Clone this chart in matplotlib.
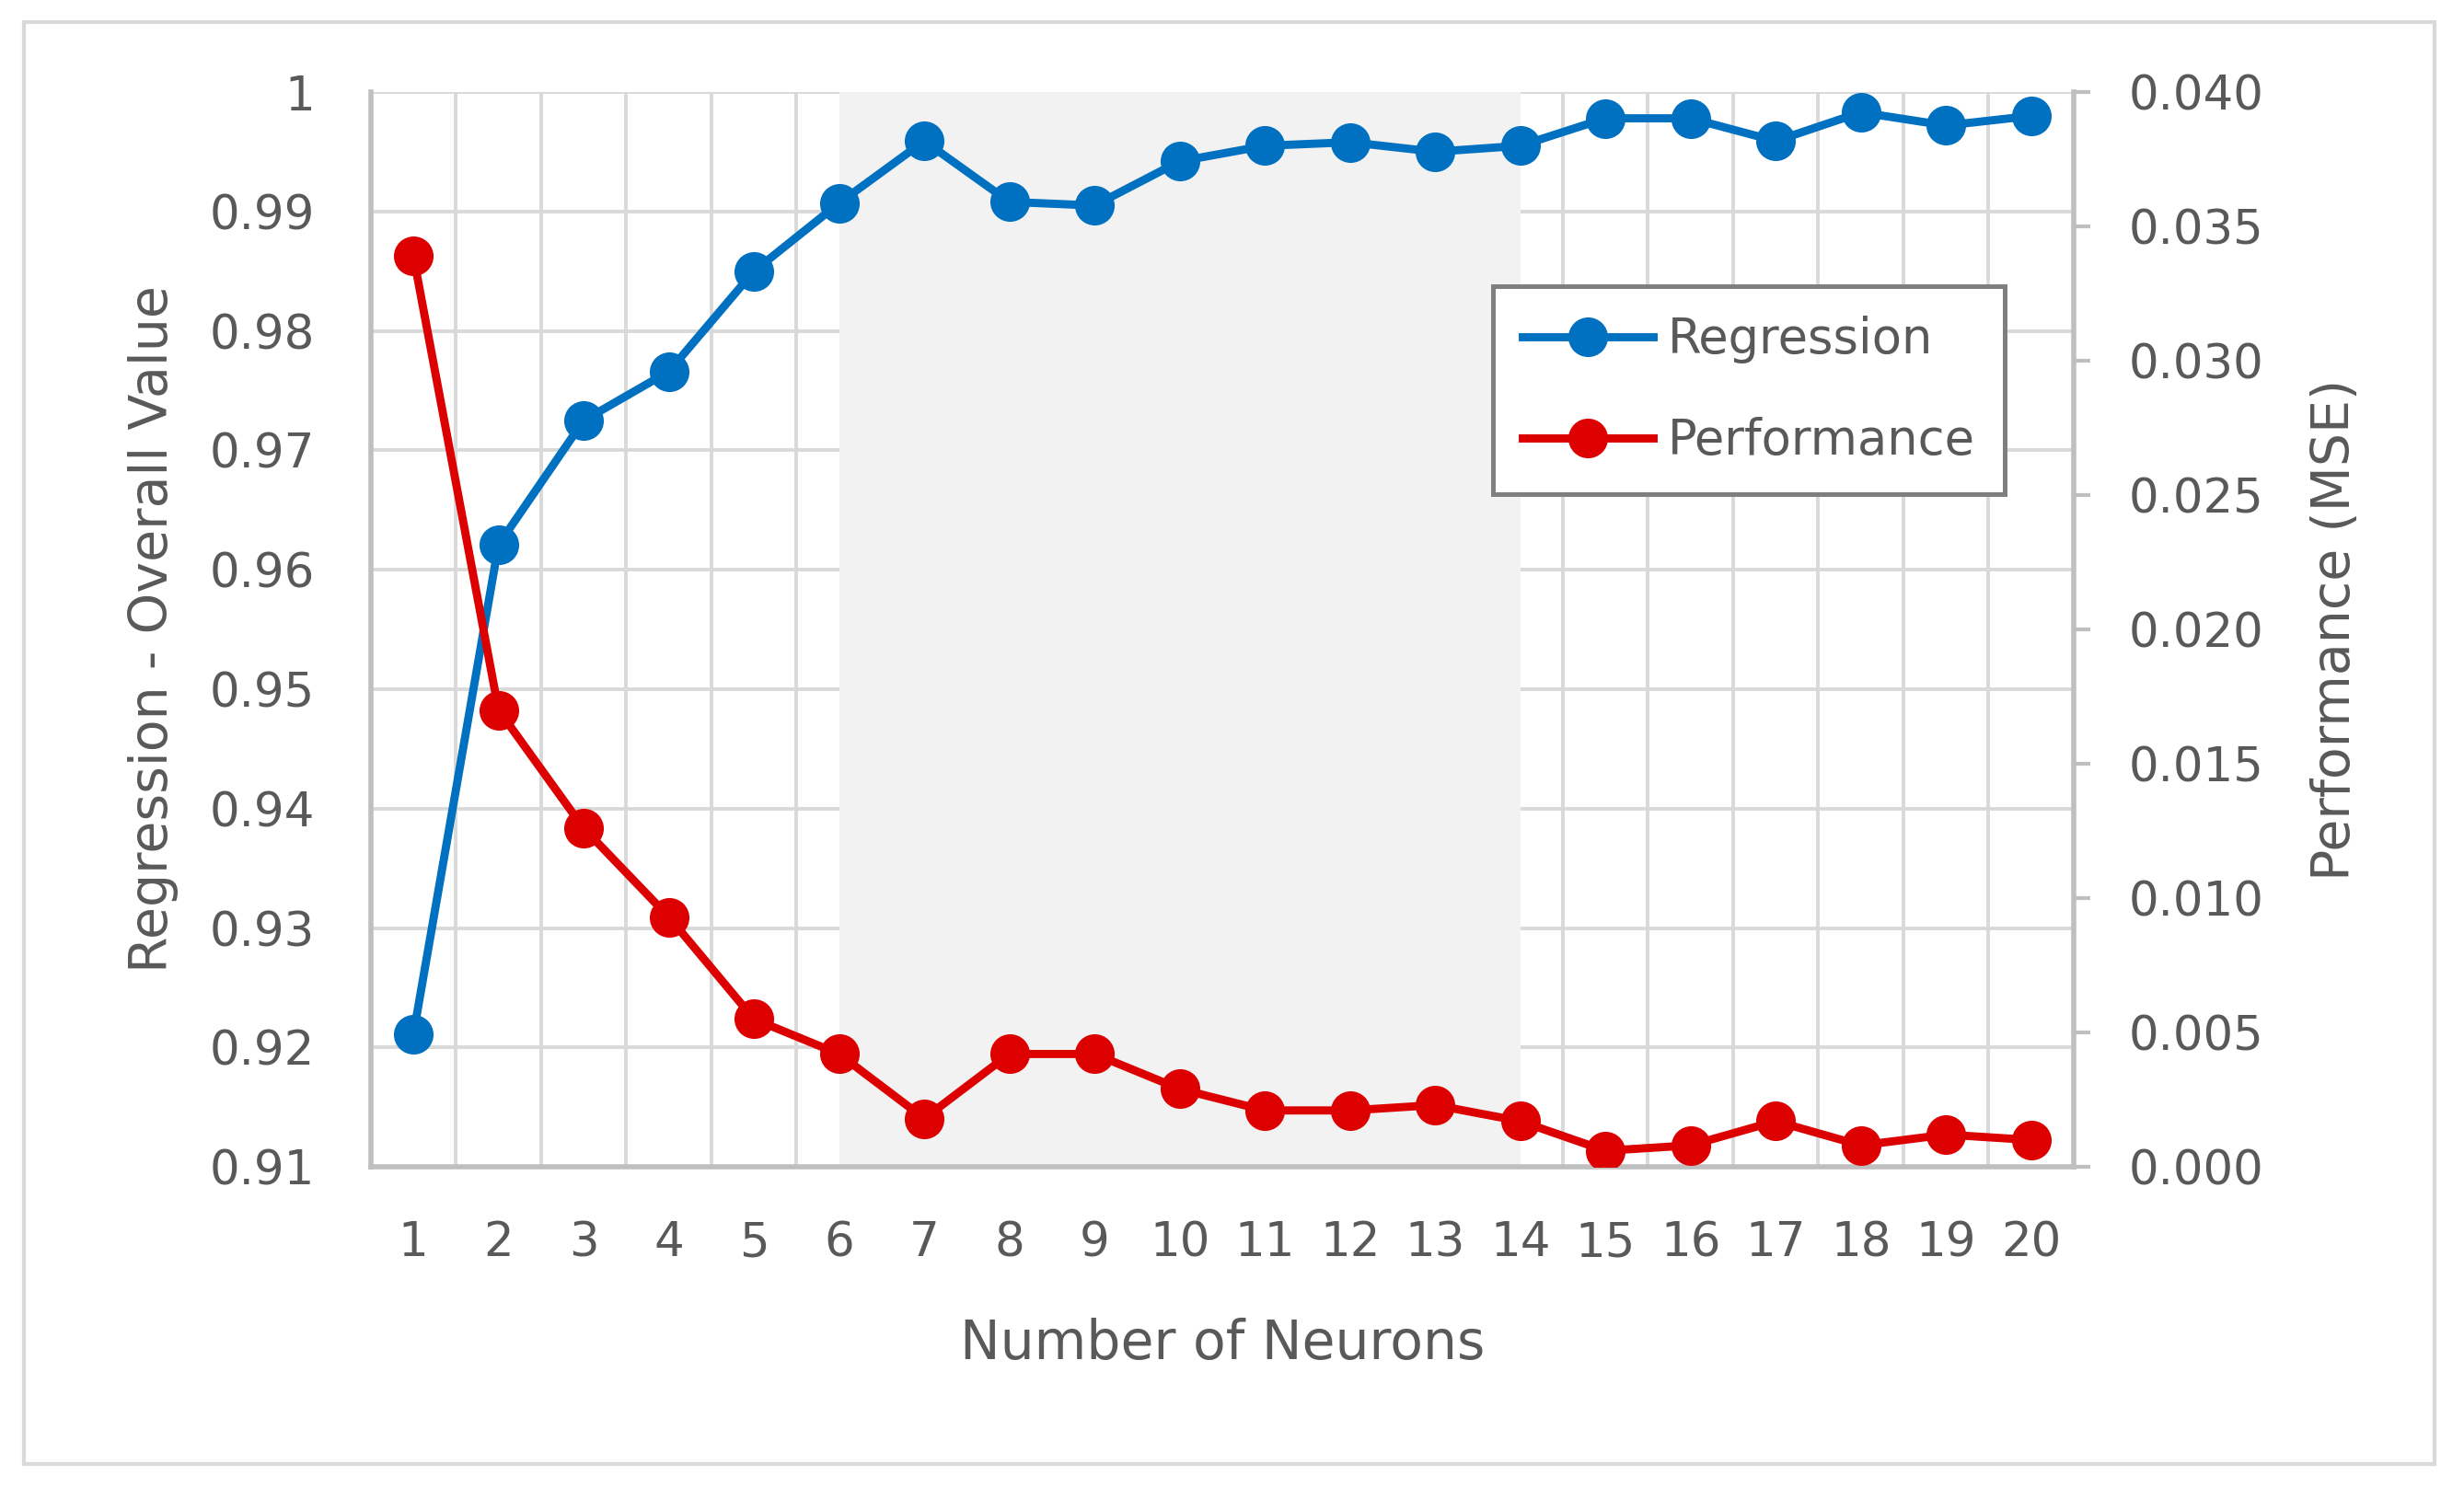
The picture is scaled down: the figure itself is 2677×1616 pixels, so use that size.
import matplotlib.pyplot as plt
from matplotlib.patches import Rectangle

# values
neurons = list(range(1, 21))
regression = [0.9211, 0.9621, 0.9725, 0.9766, 0.9850, 0.9907, 0.9959, 0.9908, 0.9905, 0.9942,
              0.9955, 0.9958, 0.9950, 0.9955, 0.9978, 0.9978, 0.9959, 0.9983, 0.9972, 0.9980]
performance = [0.0339, 0.0170, 0.0126, 0.0093, 0.0055, 0.0042, 0.0018, 0.0042, 0.0042, 0.0029,
               0.0021, 0.0021, 0.0023, 0.0017, 0.0006, 0.0008, 0.0017, 0.0008, 0.0012, 0.0010]
left_ticks = [0.91, 0.92, 0.93, 0.94, 0.95, 0.96, 0.97, 0.98, 0.99, 1.0]
left_labels = ['0.91', '0.92', '0.93', '0.94', '0.95', '0.96', '0.97', '0.98', '0.99', '1']
right_ticks = [0.0, 0.005, 0.010, 0.015, 0.020, 0.025, 0.030, 0.035, 0.040]
right_labels = ['0.000', '0.005', '0.010', '0.015', '0.020', '0.025', '0.030', '0.035', '0.040']
shade_from, shade_to = 6, 14

txt = '#595959'
grid = '#d9d9d9'
blue = '#0070C0'
red = '#DD0000'

plt.rcParams['font.family'] = ['DejaVu Sans']

fig = plt.figure(figsize=(13.385, 8.08), dpi=200)
ax = fig.add_axes([0.1505, 0.2153, 0.6911, 0.7228])
ax2 = ax.twinx()

ax.set_xlim(0.5, 20.5)
ax.set_ylim(0.91, 1.0)
ax2.set_ylim(0, 0.04)

ax.set_axisbelow(True)
ax.axvspan(shade_from, shade_to, color='#f2f2f2', lw=0, zorder=1)

l1, = ax.plot(neurons, regression, color=blue, lw=3.2, marker='o', ms=14.5,
              mec=blue, label='Regression', zorder=3)
l2, = ax2.plot(neurons, performance, color=red, lw=3.2, marker='o', ms=14.5,
               mec=red, label='Performance', zorder=3)

ax.set_xticks(neurons)
ax.set_xticks([n - 0.5 for n in neurons] + [20.5], minor=True)
ax.grid(which='minor', axis='x', color=grid, lw=1.4)
ax.set_yticks(left_ticks, left_labels)
ax.grid(which='major', axis='y', color=grid, lw=1.4)
ax2.set_yticks(right_ticks, right_labels)

ax.tick_params(axis='x', which='both', length=0, pad=21, labelsize=18.5, labelcolor=txt)
ax.tick_params(axis='y', length=0, pad=22, labelsize=18.5, labelcolor=txt)
ax2.tick_params(axis='y', length=6.5, width=1.5, color='#bfbfbf', pad=15,
                labelsize=18.5, labelcolor=txt)

for s in ['top', 'right']:
    ax.spines[s].set_visible(False)
for s in ['left', 'bottom']:
    ax.spines[s].set_color('#bfbfbf')
    ax.spines[s].set_linewidth(2)
for s in ['top', 'left', 'bottom']:
    ax2.spines[s].set_visible(False)
ax2.spines['right'].set_color('#bfbfbf')
ax2.spines['right'].set_linewidth(2)

ax.set_xlabel('Number of Neurons', fontsize=21, color=txt, labelpad=20)
ax.set_ylabel('Regression - Overall Value', fontsize=20.5, color=txt, labelpad=12)
ax2.set_ylabel('Performance (MSE)', fontsize=20.5, color=txt, labelpad=18)

leg = ax2.legend([l1, l2], ['Regression', 'Performance'], loc='upper left',
                 bbox_to_anchor=(0.659, 0.819), borderaxespad=0, fontsize=19,
                 fancybox=False, framealpha=1, edgecolor='#7f7f7f',
                 handlelength=2.7, handletextpad=0.3, labelspacing=1.1,
                 borderpad=0.6, numpoints=1)
leg.get_frame().set_linewidth(1.8)
for t in leg.get_texts():
    t.set_color(txt)

fig.patches.append(Rectangle((26 / 2677, 1 - 1591 / 1616), (2645 - 26) / 2677, (1591 - 24) / 1616,
                             transform=fig.transFigure, fill=False, edgecolor='#d9d9d9', lw=1.5))

fig.savefig('out.png', dpi=200)
